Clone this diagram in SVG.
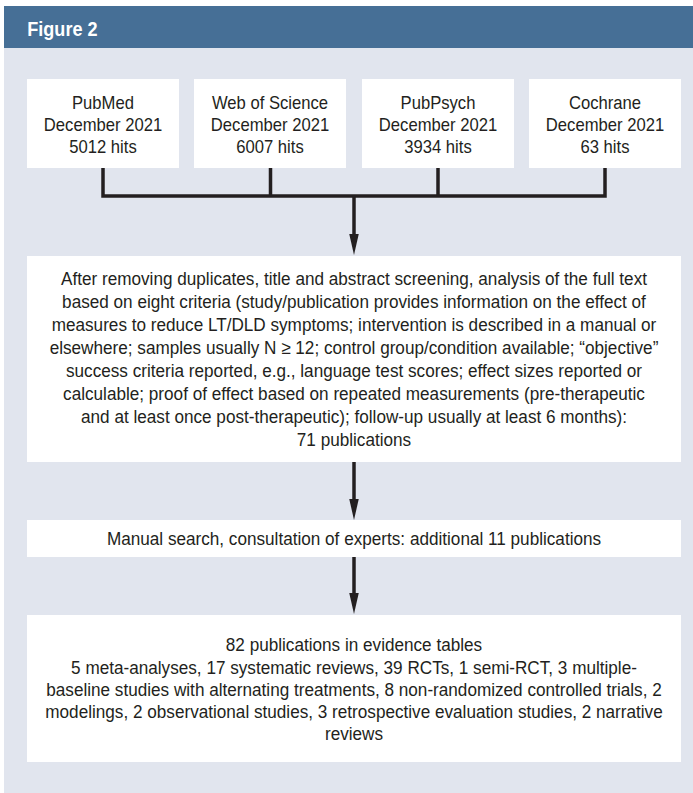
<svg xmlns="http://www.w3.org/2000/svg" width="693" height="793" viewBox="0 0 693 793">
<style>
.bg{fill:#e1e5ee}
.hdr{fill:#466f96}
.box{fill:#ffffff}
.t{font-family:"Liberation Sans",Arial,sans-serif;font-size:18.5px;fill:#231f20;text-anchor:middle}
.title{font-family:"Liberation Sans",Arial,sans-serif;font-size:21px;font-weight:bold;fill:#ffffff}
.ln{fill:none;stroke:#231f20;stroke-width:3.5}
</style>
<defs>
<marker id="ah" markerUnits="userSpaceOnUse" markerWidth="22" markerHeight="10" refX="11" refY="4.75" orient="auto">
<path d="M0,0 L21,4.75 L0,9.5 z" fill="#231f20"/>
</marker>
</defs>
<rect x="0" y="0" width="693" height="793" fill="#ffffff"/>
<rect class="bg" x="4" y="48" width="689" height="745"/>
<g id="header">
<rect class="hdr" x="4" y="6" width="689" height="42"/>
<text class="title" transform="translate(27.3 0) scale(0.86 1)" x="0" y="36">Figure 2</text>
</g>
<g id="connectors">
<path class="ln" d="M103,168 V196 H605 V168 M270.5,168 V196 M438,168 V196"/>
<line class="ln" x1="354" y1="196" x2="354" y2="245" marker-end="url(#ah)"/>
<line class="ln" x1="354" y1="462" x2="354" y2="510" marker-end="url(#ah)"/>
<line class="ln" x1="354" y1="557" x2="354" y2="604" marker-end="url(#ah)"/>
</g>
<g id="n-pubmed">
<rect class="box" x="27" y="79" width="152" height="89"/>
<text class="t" transform="translate(103 0) scale(0.9 1)"><tspan x="0" y="109">PubMed</tspan><tspan x="0" y="131">December 2021</tspan><tspan x="0" y="153">5012 hits</tspan></text>
</g>
<g id="n-wos">
<rect class="box" x="194" y="79" width="152" height="89"/>
<text class="t" transform="translate(270 0) scale(0.9 1)"><tspan x="0" y="109">Web of Science</tspan><tspan x="0" y="131">December 2021</tspan><tspan x="0" y="153">6007 hits</tspan></text>
</g>
<g id="n-pubpsych">
<rect class="box" x="362" y="79" width="152" height="89"/>
<text class="t" transform="translate(438 0) scale(0.9 1)"><tspan x="0" y="109">PubPsych</tspan><tspan x="0" y="131">December 2021</tspan><tspan x="0" y="153">3934 hits</tspan></text>
</g>
<g id="n-cochrane">
<rect class="box" x="529" y="79" width="152" height="89"/>
<text class="t" transform="translate(605 0) scale(0.9 1)"><tspan x="0" y="109">Cochrane</tspan><tspan x="0" y="131">December 2021</tspan><tspan x="0" y="153">63 hits</tspan></text>
</g>
<g id="n-screening">
<rect class="box" x="27" y="256" width="654" height="206"/>
<text class="t" transform="translate(354 0) scale(0.927 1)"><tspan x="0" y="284.7">After removing duplicates, title and abstract screening, analysis of the full text</tspan><tspan x="0" y="307.7">based on eight criteria (study/publication provides information on the effect of</tspan><tspan x="0" y="330.7">measures to reduce LT/DLD symptoms; intervention is described in a manual or</tspan><tspan x="0" y="353.7">elsewhere; samples usually N ≥ 12; control group/condition available; “objective”</tspan><tspan x="0" y="376.7">success criteria reported, e.g., language test scores; effect sizes reported or</tspan><tspan x="0" y="399.7">calculable; proof of effect based on repeated measurements (pre-therapeutic</tspan><tspan x="0" y="422.7">and at least once post-therapeutic); follow-up usually at least 6 months):</tspan><tspan x="0" y="445.7">71 publications</tspan></text>
</g>
<g id="n-manual">
<rect class="box" x="27" y="520" width="654" height="37"/>
<text class="t" transform="translate(354 0) scale(0.927 1)" x="0" y="545.3">Manual search, consultation of experts: additional 11 publications</text>
</g>
<g id="n-final">
<rect class="box" x="27" y="615" width="654" height="147"/>
<text class="t" transform="translate(354 0) scale(0.927 1)"><tspan x="0" y="651.5">82 publications in evidence tables</tspan><tspan x="0" y="673.6">5 meta-analyses, 17 systematic reviews, 39 RCTs, 1 semi-RCT, 3 multiple-</tspan><tspan x="0" y="695.7">baseline studies with alternating treatments, 8 non-randomized controlled trials, 2</tspan><tspan x="0" y="717.8">modelings, 2 observational studies, 3 retrospective evaluation studies, 2 narrative</tspan><tspan x="0" y="739.9">reviews</tspan></text>
</g>
</svg>
